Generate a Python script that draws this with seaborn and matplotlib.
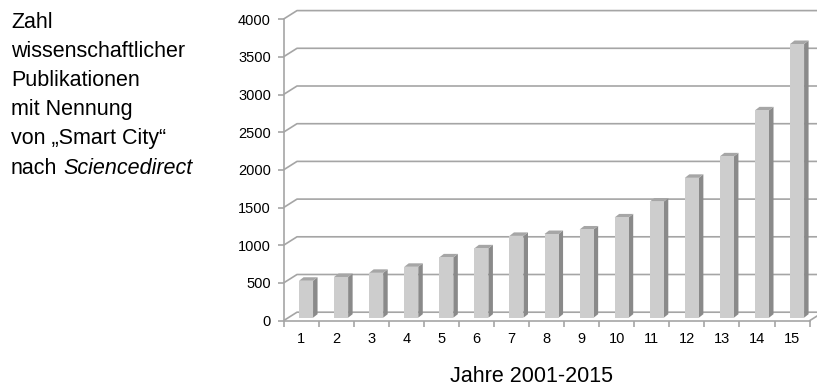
import matplotlib
matplotlib.use("Agg")
import numpy as np
import pandas as pd
import seaborn as sns
import matplotlib.pyplot as plt
from matplotlib.transforms import ScaledTranslation
from matplotlib.patches import Polygon

# Publications per year (2001-2015, shown as 1..15)
years = list(range(1, 16))
counts = [490, 540, 595, 675, 800, 920, 1085, 1110, 1170, 1330, 1540, 1855, 2140, 2750, 3630]
y_ticks = [0, 500, 1000, 1500, 2000, 2500, 3000, 3500, 4000]
title_lines = ["Zahl", "wissenschaftlicher", "Publikationen", "mit Nennung",
               "von \u201eSmart City\u201c"]
title_last = ("nach", "Sciencedirect")
x_title = "Jahre 2001-2015"

W, H = 817, 389
sns.set_theme(style="white")
plt.rcParams["font.family"] = ["Liberation Sans", "DejaVu Sans"]

fig = plt.figure(figsize=(W / 100, H / 100), dpi=100)
fig.patch.set_facecolor("white")

# front plane of the plot area (pixel geometry)
x_left, x_right = 283.5, 809.6
y_zero, y_top = 320.7, 19.1
ax = fig.add_axes([x_left / W, 1 - y_zero / H, (x_right - x_left) / W, (y_zero - y_top) / H])
ax.patch.set_alpha(0)

df = pd.DataFrame({"Jahr": [str(y) for y in years], "Anzahl": counts})
sns.barplot(data=df, x="Jahr", y="Anzahl", color="#cdcdcd", saturation=1,
            width=0.4, linewidth=0, ax=ax, zorder=3)
ax.set_xlim(-0.5, 14.5)
ax.set_ylim(0, 4000)

px_per_cat = (x_right - x_left) / 15
px_per_unit = (y_zero - y_top) / 4000

# oblique depth of the back wall
bdx = 13.5 / px_per_cat
bdy = 8.5 / px_per_unit
grid_col = "#a5a5a5"
for v in y_ticks:
    ax.plot([-0.5, -0.5 + bdx, 14.5 + bdx], [v, v + bdy, v + bdy],
            color=grid_col, lw=1.2, clip_on=False, zorder=1, solid_capstyle="butt")
ax.plot([14.5, 14.5 + bdx], [0, bdy], color=grid_col, lw=1.2, clip_on=False, zorder=1)

# bars sit a little behind the front plane; give them side and top faces
bar_shift = ax.transData + ScaledTranslation(5 / 100, 3 / 100, fig.dpi_scale_trans)
ddx = 4.5 / px_per_cat
ddy = 3.5 / px_per_unit
for p in list(ax.patches):
    p.set_transform(bar_shift)
    p.set_clip_on(False)
    x0, w, h = p.get_x(), p.get_width(), p.get_height()
    side = Polygon([(x0 + w, 0), (x0 + w + ddx, ddy), (x0 + w + ddx, h + ddy), (x0 + w, h)],
                   closed=True, facecolor="#8a8a8a", edgecolor="none",
                   transform=bar_shift, clip_on=False, zorder=2.9)
    top = Polygon([(x0, h), (x0 + w, h), (x0 + w + ddx, h + ddy), (x0 + ddx, h + ddy)],
                  closed=True, facecolor="#a6a6a6", edgecolor="none",
                  transform=bar_shift, clip_on=False, zorder=2.9)
    ax.add_patch(side)
    ax.add_patch(top)

# axes, ticks
for s in ["top", "right"]:
    ax.spines[s].set_visible(False)
for s in ["left", "bottom"]:
    ax.spines[s].set_color(grid_col)
    ax.spines[s].set_linewidth(1.2)
    ax.spines[s].set_zorder(4)

ax.set_yticks(y_ticks)
ax.set_yticklabels([str(v) for v in y_ticks])
ax.set_xticks(range(15))
ax.set_xticklabels([str(y) for y in years])
ax.set_xticks(np.arange(-0.5, 15, 1), minor=True)
ax.tick_params(axis="y", left=True, length=4, width=1.2, color=grid_col, pad=5,
               labelsize=10.5, labelcolor="black")
ax.tick_params(axis="x", which="major", bottom=True, length=0, pad=8,
               labelsize=10.5, labelcolor="black")
ax.tick_params(axis="x", which="minor", bottom=True, length=4, width=1.2, color=grid_col)
ax.set_xlabel("")
ax.set_ylabel("")

# axis title
fig.text(531.5 / W, 1 - 382 / H, x_title, ha="center", va="baseline", fontsize=15.5, color="black")

# chart description on the left
fs = 15.5
tx = 11 / W
base0, step = 27.5, 29.2
for i, line in enumerate(title_lines):
    fig.text(tx, 1 - (base0 + i * step) / H, line, va="baseline", fontsize=fs, color="black")
yl = 1 - (base0 + len(title_lines) * step) / H
t1 = fig.text(tx, yl, title_last[0], va="baseline", fontsize=fs, color="black")
fig.canvas.draw()
bb = t1.get_window_extent()
fig.text((bb.x1 + 6) / W, yl, title_last[1], va="baseline", fontsize=fs,
         style="italic", color="black")

fig.savefig("out.png", dpi=100, facecolor="white")
